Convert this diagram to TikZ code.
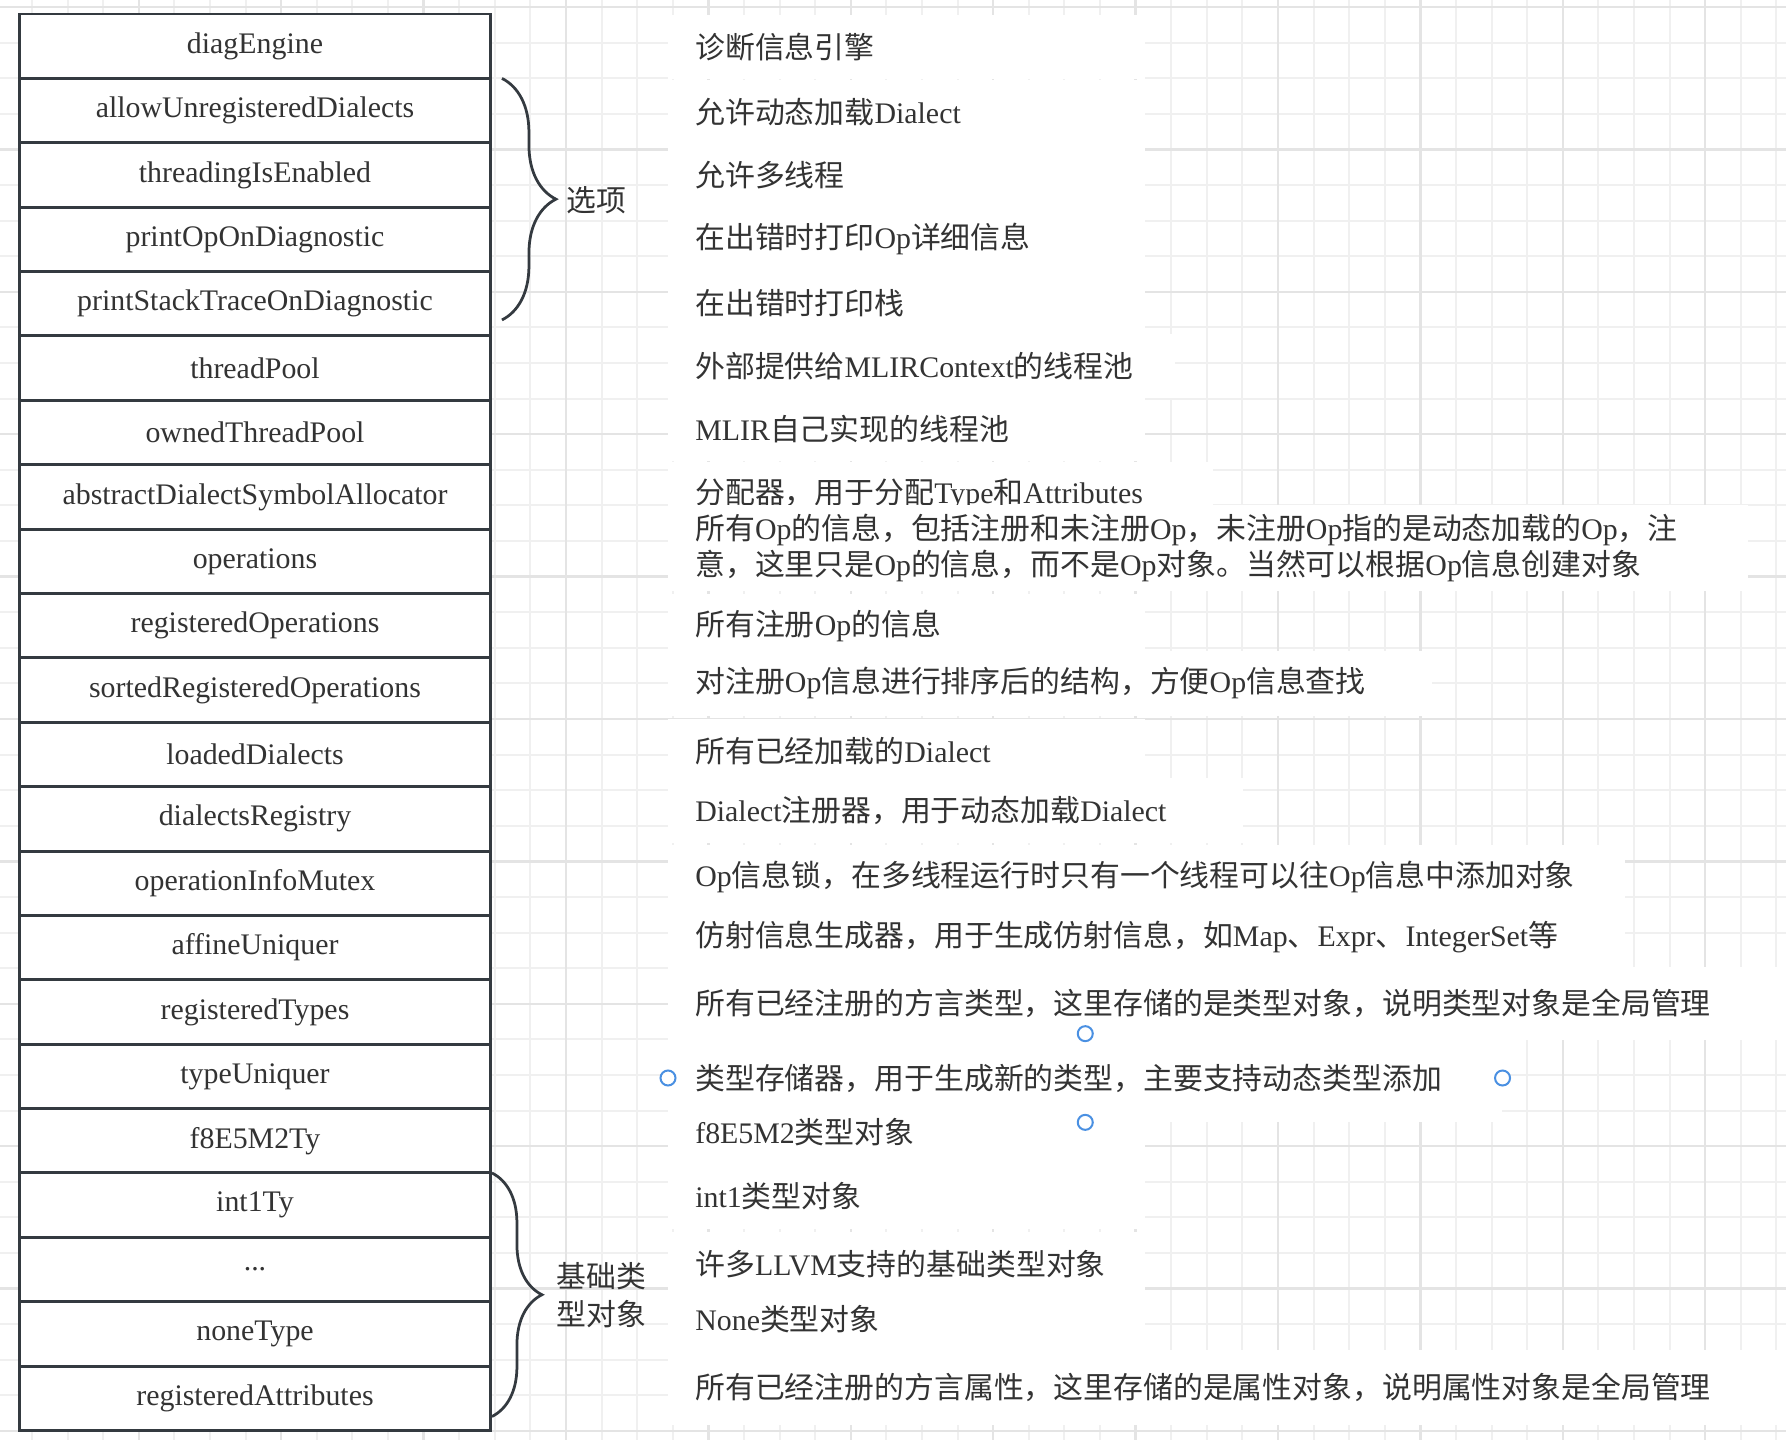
\documentclass[tikz,border=0pt]{standalone}
\usepackage{fontspec}
\setmainfont{Liberation Serif}
\newfontfamily\zhfont{Noto Sans CJK SC}
\usetikzlibrary{positioning,decorations.pathreplacing}

\definecolor{lineDark}{HTML}{343A40}
\definecolor{textDark}{HTML}{333333}
\definecolor{gridMinor}{HTML}{F0F0F0}
\definecolor{gridMajor}{HTML}{E4E4E4}
\definecolor{handleBlue}{HTML}{4A90E2}

\newcommand{\zh}[1]{{\zhfont #1}}

\tikzset{
  field/.style={draw=lineDark, line width=0.06cm, fill=white, minimum width=9.44cm,
    minimum height=1.288cm, inner sep=0pt, outer sep=0pt, text=textDark,
    font=\fontsize{17}{20.4}\selectfont},
  desc/.style={fill=white, anchor=west, inner xsep=0.54cm, inner ysep=0pt,
    minimum height=1.3cm, text width=#1, align=left, text=textDark,
    font=\fontsize{17}{20.4}\selectfont},
  desc/.default=8.46cm,
  bracelabel/.style={anchor=west, inner sep=0pt, align=left, text=textDark,
    font=\fontsize{17}{21.3}\selectfont\zhfont},
  bracket/.style={draw=lineDark, line width=0.055cm, decorate,
    decoration={brace, amplitude=#1}},
  gridline/.style={draw=gridMinor, line width=0.04cm},
  gridbold/.style={draw=gridMajor, line width=0.05cm},
  handle/.style={draw=handleBlue, line width=0.04cm, fill=white},
}

\begin{document}
\begin{tikzpicture}[x=0.02cm, y=-0.02cm]
    \useasboundingbox (0,0) rectangle (1786,1440);
    \fill[white] (0,0) rectangle (1786,1440);

    % background grid
    \foreach \k in {0,...,50} {
        \draw[gridline] ({-3.6+35.6*\k},0) -- ({-3.6+35.6*\k},1440);
    }
    \foreach \k in {0,...,40} {
        \draw[gridline] (0,{7+35.6*\k}) -- (1786,{7+35.6*\k});
    }
    \foreach \k in {0,4,...,48} {
        \draw[gridbold] ({-3.6+35.6*\k},0) -- ({-3.6+35.6*\k},1440);
    }
    \foreach \k in {0,4,...,40} {
        \draw[gridbold] (0,{7+35.6*\k}) -- (1786,{7+35.6*\k});
    }

    % MLIRContext fields
    \node[field, anchor=north] (diag) at (255,14) {diagEngine};
    \node[field, below=0pt of diag] (allow) {allowUnregisteredDialects};
    \node[field, below=0pt of allow] (threading) {threadingIsEnabled};
    \node[field, below=0pt of threading] (printOp) {printOpOnDiagnostic};
    \node[field, below=0pt of printOp] (printStack) {printStackTraceOnDiagnostic};
    \node[field, below=0pt of printStack] (pool) {threadPool};
    \node[field, below=0pt of pool] (ownedPool) {ownedThreadPool};
    \node[field, below=0pt of ownedPool] (allocator) {abstractDialectSymbolAllocator};
    \node[field, below=0pt of allocator] (ops) {operations};
    \node[field, below=0pt of ops] (regOps) {registeredOperations};
    \node[field, below=0pt of regOps] (sortedOps) {sortedRegisteredOperations};
    \node[field, below=0pt of sortedOps] (loaded) {loadedDialects};
    \node[field, below=0pt of loaded] (registry) {dialectsRegistry};
    \node[field, below=0pt of registry] (mutex) {operationInfoMutex};
    \node[field, below=0pt of mutex] (affine) {affineUniquer};
    \node[field, below=0pt of affine] (regTypes) {registeredTypes};
    \node[field, below=0pt of regTypes] (typeUniq) {typeUniquer};
    \node[field, below=0pt of typeUniq] (f8) {f8E5M2Ty};
    \node[field, below=0pt of f8] (int1) {int1Ty};
    \node[field, below=0pt of int1] (dots) {...};
    \node[field, below=0pt of dots] (none) {noneType};
    \node[field, below=0pt of none] (regAttrs) {registeredAttributes};

    % braces
    \draw[bracket=1.08cm] ([shift={(11,0)}]allow.north east) -- ([shift={(11,-16)}]printStack.south east);
    \node[bracelabel] (options) at (566,200) {选项};
    \draw[bracket=1.0cm] ([shift={(1,0)}]int1.north east) -- ([shift={(1,-14)}]regAttrs.south east);
    \node[bracelabel] (basicTypes) at (556,1295) {基础类\\型对象};

    % descriptions
    \node[desc] (dDiag) at (668,47) {\zh{诊断信息引擎}};
    \node[desc] (dAllow) at (668,112) {\zh{允许动态加载}Dialect};
    \node[desc] (dThreading) at (668,175) {\zh{允许多线程}};
    \node[desc] (dPrintOp) at (668,239) {\zh{在出错时打印}Op\zh{详细信息}};
    \node[desc] (dPrintStack) at (668,303) {\zh{在出错时打印栈}};
    \node[desc=9.06cm] (dPool) at (668,366) {\zh{外部提供给}MLIRContext\zh{的线程池}};
    \node[desc] (dOwnedPool) at (668,429) {MLIR\zh{自己实现的线程池}};
    \node[desc=9.82cm] (dAllocator) at (668,494) {\zh{分配器，用于分配}Type\zh{和}Attributes};
    \node[desc=20.52cm, minimum height=1.72cm] (dOps) at (668,548)
        {\zh{所有}Op\zh{的信息，包括注册和未注册}Op\zh{，未注册}Op\zh{指的是动态加载的}Op\zh{，注}\\
         \zh{意，这里只是}Op\zh{的信息，而不是}Op\zh{对象。当然可以根据}Op\zh{信息创建对象}};
    \node[desc] (dRegOps) at (668,626) {\zh{所有注册}Op\zh{的信息}};
    \node[desc=14.2cm] (dSortedOps) at (668,683) {\zh{对注册}Op\zh{信息进行排序后的结构，方便}Op\zh{信息查找}};
    \node[desc] (dLoaded) at (668,751) {\zh{所有已经加载的}Dialect};
    \node[desc=10.42cm] (dRegistry) at (668,810) {Dialect\zh{注册器，用于动态加载}Dialect};
    \node[desc=18.06cm] (dMutex) at (668,877) {Op\zh{信息锁，在多线程运行时只有一个线程可以往}Op\zh{信息中添加对象}};
    \node[desc=18.06cm] (dAffine) at (668,937) {\zh{仿射信息生成器，用于生成仿射信息，如}Map\zh{、}Expr\zh{、}IntegerSet\zh{等}};
    \node[desc=21.28cm, minimum height=1.46cm] (dRegTypes) at (668,1003) {\zh{所有已经注册的方言类型，这里存储的是类型对象，说明类型对象是全局管理}};
    \node[desc=15.6cm, minimum height=1.76cm] (dTypeUniq) at (668,1078) {\zh{类型存储器，用于生成新的类型，主要支持动态类型添加}};
    \node[desc] (dF8) at (668,1132) {f8E5M2\zh{类型对象}};
    \node[desc] (dInt1) at (668,1196) {int1\zh{类型对象}};
    \node[desc] (dDots) at (668,1264) {\zh{许多}LLVM\zh{支持的基础类型对象}};
    \node[desc] (dNone) at (668,1319) {None\zh{类型对象}};
    \node[desc=21.28cm, minimum height=1.5cm] (dRegAttrs) at (668,1387) {\zh{所有已经注册的方言属性，这里存储的是属性对象，说明属性对象是全局管理}};

    % selection handles
    \foreach \a in {north,south,east,west} {
        \draw[handle] (dTypeUniq.\a) circle[radius=0.15cm];
    }
\end{tikzpicture}
\end{document}
